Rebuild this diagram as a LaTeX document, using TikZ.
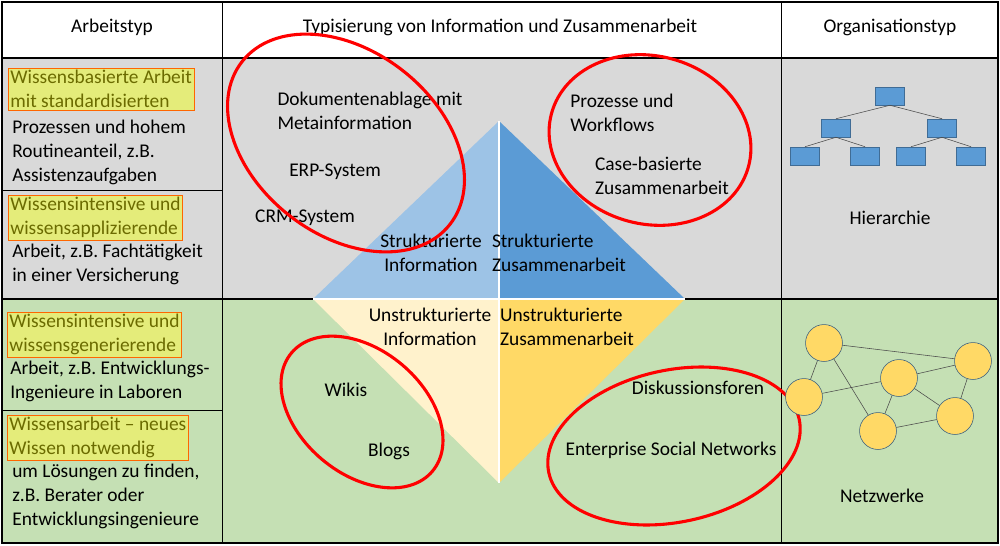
\documentclass[tikz,border=0pt]{standalone}
\usepackage{fontspec}
\setmainfont{Carlito}
\usepackage{tikz}
\usetikzlibrary{shapes.geometric}
\definecolor{greyrow}{HTML}{D9D9D9}
\definecolor{greenrow}{HTML}{C5E0B4}
\definecolor{siblue}{HTML}{9DC3E6}
\definecolor{szblue}{HTML}{5B9BD5}
\definecolor{uiyellow}{HTML}{FFF2CC}
\definecolor{uzyellow}{HTML}{FFD966}
\definecolor{hlfill}{HTML}{E4EC7A}
\definecolor{hltext}{HTML}{6B6B00}
\tikzset{
  txt/.style={font=\fontsize{13.8}{17}\selectfont, align=left, inner sep=0pt},
  ctxt/.style={txt, align=center},
  hl/.style={txt, fill=hlfill, draw=orange!80!red, text=hltext, inner sep=1.5pt},
  ring/.style={draw=red, line width=2.2pt},
  hbox/.style={draw=szblue!70!black, fill=szblue, minimum width=29pt*0.71, minimum height=18pt*0.71, inner sep=0pt},
  hnode/.style={circle, draw=szblue!60!black, fill=uzyellow, minimum size=37*0.71pt, inner sep=0pt}
}
\begin{document}
\begin{tikzpicture}[x=0.025cm, y=-0.025cm]
        \useasboundingbox (0,0) rectangle (1000,546);
        % Rows
        \fill[white] (0,0) rectangle (1000,546);
        \fill[greyrow] (2,58) rectangle (998,299);
        \fill[greenrow] (2,299) rectangle (998,543);
        \draw[thick] (2,2) rectangle (998,543);
        \draw[thick] (2,58) -- (998,58);
        \draw[thick] (2,299) -- (998,299);
        \draw (222,2) -- (222,543);
        \draw (781,2) -- (781,543);
        \draw (2,190) -- (222,190);
        \draw (2,410) -- (222,410);

        % Header
        \node[ctxt] (hArbeit) at (112,27) {Arbeitstyp};
        \node[ctxt] (hTyp) at (500,27) {Typisierung von Information und Zusammenarbeit};
        \node[ctxt] (hOrg) at (890,27) {Organisationstyp};

        % Diamond
        \coordinate (dL) at (313,299);
        \coordinate (dR) at (685,299);
        \coordinate (dT) at (499,121);
        \coordinate (dB) at (499,483);
        \coordinate (dC) at (499,299);
        \fill[siblue] (dL) -- (dT) -- (dC) -- cycle;
        \fill[szblue] (dT) -- (dR) -- (dC) -- cycle;
        \fill[uiyellow] (dL) -- (dC) -- (dB) -- cycle;
        \fill[uzyellow] (dC) -- (dR) -- (dB) -- cycle;
        \draw[white, thick] (dL) -- (dR) (dT) -- (dB);
        \node[ctxt] (si) at (431,253) {Strukturierte\\Information};
        \node[txt] (sz) at (559,253) {Strukturierte\\Zusammenarbeit};
        \node[ctxt] (ui) at (430,327) {Unstrukturierte\\Information};
        \node[txt] (uz) at (567,327) {Unstrukturierte\\Zusammenarbeit};

        % Examples
        \node[txt] (dok) at (370,111) {Dokumentenablage mit\\Metainformation};
        \node[ctxt] (erp) at (335,172) {ERP-System};
        \node[ctxt] (crm) at (305,218) {CRM-System};
        \node[txt] (proz) at (622,113) {Prozesse und\\Workflows};
        \node[txt] (case) at (662,176) {Case-basierte\\Zusammenarbeit};
        \node[ctxt] (wiki) at (346,390) {Wikis};
        \node[ctxt] (blog) at (389,451) {Blogs};
        \node[ctxt] (disk) at (698,388) {Diskussionsforen};
        \node[ctxt] (esn) at (671,450) {Enterprise Social Networks};

        % Red rings
        \draw[ring, rotate around={-38:(346,143)}] (346,143) ellipse (132 and 92);
        \draw[ring, rotate around={-15:(650,140)}] (650,140) ellipse (102 and 84);
        \draw[ring, rotate around={-40:(362,412)}] (362,412) ellipse (92 and 62);
        \draw[ring, rotate around={12:(674,446)}] (674,446) ellipse (128 and 76);

        % Left column
        \node[hl, anchor=north west] (a1) at (8,68) {Wissensbasierte Arbeit\\mit standardisierten};
        \node[txt, anchor=north west] (a1b) at (12,120) {Prozessen und hohem\\Routineanteil, z.B.\\Assistenzaufgaben};
        \node[hl, anchor=north west] (a2) at (8,195) {Wissensintensive und\\wissensapplizierende};
        \node[txt, anchor=north west] (a2b) at (12,244) {Arbeit, z.B. Fachtätigkeit\\in einer Versicherung};
        \node[hl, anchor=north west] (a3) at (7,312) {Wissensintensive und\\wissensgenerierende};
        \node[txt, anchor=north west] (a3b) at (10,361) {Arbeit, z.B. Entwicklungs-\\Ingenieure in Laboren};
        \node[hl, anchor=north west] (a4) at (7,415) {Wissensarbeit -- neues\\Wissen notwendig};
        \node[txt, anchor=north west] (a4b) at (12,464) {um Lösungen zu finden,\\z.B. Berater oder\\Entwicklungsingenieure};

        % Hierarchie
        \node[hbox] (h0) at (890,96) {};
        \node[hbox] (h1) at (836,128) {};
        \node[hbox] (h2) at (942,128) {};
        \foreach \n/\x in {h11/805, h12/865, h21/911, h22/971}
            \node[hbox] (\n) at (\x,156) {};
        \draw[black!70] (h0.south) -- (h1.north) (h0.south) -- (h2.north)
            (h1.south) -- (h11.north) (h1.south) -- (h12.north)
            (h2.south) -- (h21.north) (h2.south) -- (h22.north);
        \node[ctxt] (hier) at (890,218) {Hierarchie};

        % Netzwerk
        \draw[black!70] (824,343) -- (973,361) (824,343) -- (804,397) (824,343) -- (878,431)
            (804,397) -- (899,378) (899,378) -- (973,361) (899,378) -- (955,416)
            (899,378) -- (878,431) (955,416) -- (973,361) (955,416) -- (878,431);
        \foreach \n/\x/\y in {nA/824/343, nB/973/361, nC/899/378, nD/804/397, nE/955/416, nF/878/431}
            \node[hnode] (\n) at (\x,\y) {};
        \node[ctxt] (netz) at (882,496) {Netzwerke};
\end{tikzpicture}
\end{document}
